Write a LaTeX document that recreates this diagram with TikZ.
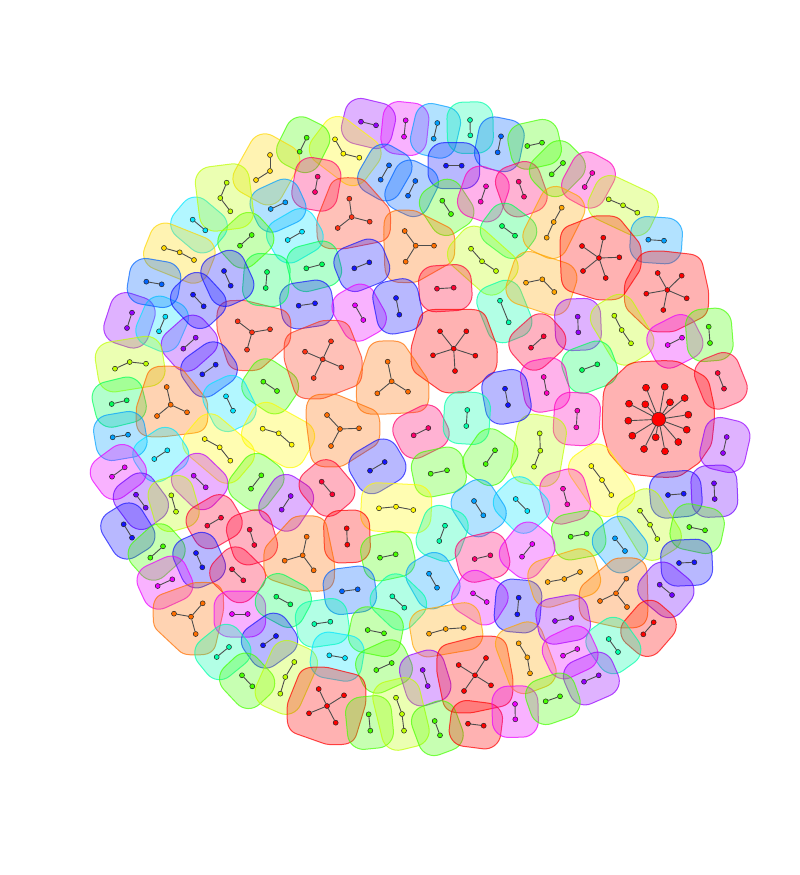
\documentclass[tikz,border=0pt]{standalone}
\usepackage{tikz}
\pgfdeclarelayer{bg}
\pgfsetlayers{bg,main}
\definecolor{cred}{RGB}{255,0,0}
\definecolor{cred2}{RGB}{255,0,50}
\definecolor{crose}{RGB}{255,0,110}
\definecolor{cpink}{RGB}{255,0,190}
\definecolor{cmag}{RGB}{235,0,255}
\definecolor{corchid}{RGB}{190,0,255}
\definecolor{cviolet}{RGB}{150,0,255}
\definecolor{ciris}{RGB}{110,0,255}
\definecolor{cblue}{RGB}{20,20,255}
\definecolor{cazure}{RGB}{0,100,255}
\definecolor{csky}{RGB}{0,160,255}
\definecolor{ccyan}{RGB}{0,230,255}
\definecolor{caqua}{RGB}{0,255,170}
\definecolor{cmint}{RGB}{0,255,90}
\definecolor{cgreen}{RGB}{70,255,0}
\definecolor{clime}{RGB}{190,255,0}
\definecolor{cyel}{RGB}{255,250,0}
\definecolor{cgold}{RGB}{255,215,0}
\definecolor{camber}{RGB}{255,165,0}
\definecolor{corange}{RGB}{255,110,0}
\definecolor{cscar}{RGB}{255,50,20}
\tikzset{
  blob/.style={shape=rectangle, draw=#1, fill=#1, fill opacity=0.3, draw opacity=0.7, line width=1pt, rounded corners=16pt, inner sep=0pt, outer sep=0pt},
  dot/.style={circle, draw=black!85, fill=#1, line width=0.5pt, inner sep=0pt, minimum size=5pt},
  link/.style={draw=black!70, line width=0.9pt},
}
\newcounter{blobn}
% edge blob: color x1 y1 x2 y2
\newcommand\Eb[5]{%
  \stepcounter{blobn}%
  \pgfmathsetmacro\bang{atan2((#3)-(#5),(#4)-(#2))}%
  \pgfmathsetmacro\bw{veclen((#4)-(#2),(#5)-(#3))+36}%
  \pgfmathsetmacro\bcx{((#2)+(#4))/2}%
  \pgfmathsetmacro\bcy{((#3)+(#5))/2}%
  \begin{pgfonlayer}{bg}
  \node[blob=#1, minimum width=\bw pt, minimum height=46pt, rotate=\bang] (B\theblobn) at (\bcx,\bcy) {};
  \end{pgfonlayer}
  \node[dot=#1] (B\theblobn-1) at (#2,#3) {};
  \node[dot=#1] (B\theblobn-2) at (#4,#5) {};
  \draw[link] (B\theblobn-1) -- (B\theblobn-2);
}
% path blob: color x1 y1 x2 y2 x3 y3
\newcommand\Pb[7]{%
  \stepcounter{blobn}%
  \pgfmathsetmacro\bdx{(#6)-(#2)}%
  \pgfmathsetmacro\bdy{(#7)-(#3)}%
  \pgfmathsetmacro\bL{veclen(\bdx,\bdy)}%
  \pgfmathsetmacro\bdev{((\bdx)*((#5)-(#3))-(\bdy)*((#4)-(#2)))/(\bL)}%
  \pgfmathsetmacro\bcx{((#2)+(#6))/2+0.5*(\bdev)*(0-(\bdy))/(\bL)}%
  \pgfmathsetmacro\bcy{((#3)+(#7))/2+0.5*(\bdev)*(\bdx)/(\bL)}%
  \pgfmathsetmacro\bang{atan2(0-(\bdy),\bdx)}%
  \pgfmathsetmacro\bw{\bL+36}%
  \pgfmathsetmacro\bh{46+abs(\bdev)}%
  \begin{pgfonlayer}{bg}
  \node[blob=#1, minimum width=\bw pt, minimum height=\bh pt, rotate=\bang] (B\theblobn) at (\bcx,\bcy) {};
  \end{pgfonlayer}
  \node[dot=#1] (B\theblobn-1) at (#2,#3) {};
  \node[dot=#1] (B\theblobn-2) at (#4,#5) {};
  \node[dot=#1] (B\theblobn-3) at (#6,#7) {};
  \draw[link] (B\theblobn-1) -- (B\theblobn-2);
  \draw[link] (B\theblobn-2) -- (B\theblobn-3);
}
% hull blob: convex hull (points in angular order) grown by a squircle of radius #3
\newcommand\Hb[3]{%
  \xdef\hn{0}\xdef\hcx{0}\xdef\hcy{0}%
  \foreach \hx/\hy in {#2}{%
    \pgfmathtruncatemacro\hk{\hn+1}\xdef\hn{\hk}%
    \expandafter\xdef\csname hpx\hk\endcsname{\hx}%
    \expandafter\xdef\csname hpy\hk\endcsname{\hy}%
    \pgfmathsetmacro\htmp{\hcx+\hx}\xdef\hcx{\htmp}%
    \pgfmathsetmacro\htmp{\hcy+\hy}\xdef\hcy{\htmp}%
  }%
  \pgfmathsetmacro\htmp{\hcx/\hn}\xdef\hcx{\htmp}%
  \pgfmathsetmacro\htmp{\hcy/\hn}\xdef\hcy{\htmp}%
  \foreach \hi in {1,...,\hn}{%
    \pgfmathtruncatemacro\hip{mod(\hi,\hn)+1}%
    \edef\hAx{\csname hpx\hi\endcsname}\edef\hAy{\csname hpy\hi\endcsname}%
    \edef\hBx{\csname hpx\hip\endcsname}\edef\hBy{\csname hpy\hip\endcsname}%
    \pgfmathsetmacro\hNx{(\hBy)-(\hAy)}%
    \pgfmathsetmacro\hNy{(\hAx)-(\hBx)}%
    \pgfmathsetmacro\hSg{((\hNx)*(((\hAx)+(\hBx))/2-(\hcx))+(\hNy)*(((\hAy)+(\hBy))/2-(\hcy)))>0 ? 1 : -1}%
    \pgfmathsetmacro\hPhi{atan2((\hSg)*(\hNy),(\hSg)*(\hNx))}%
    \expandafter\xdef\csname hphi\hi\endcsname{\hPhi}%
  }%
  \gdef\hpath{}%
  \foreach \hi in {1,...,\hn}{%
    \pgfmathtruncatemacro\him{mod(\hi+\hn-2,\hn)+1}%
    \edef\hPa{\csname hphi\him\endcsname}\edef\hPb{\csname hphi\hi\endcsname}%
    \pgfmathsetmacro\hDd{mod((\hPb)-(\hPa)+540,360)-180}%
    \edef\hAx{\csname hpx\hi\endcsname}\edef\hAy{\csname hpy\hi\endcsname}%
    \foreach \hkk in {0,...,12}{%
      \pgfmathsetmacro\hPh{(\hPa)+(\hDd)*\hkk/12}%
      \pgfmathsetmacro\hC{cos(\hPh)}%
      \pgfmathsetmacro\hS{sin(\hPh)}%
      \pgfmathsetmacro\hDen{pow(pow(abs(\hC)+0.0001,1.5)+pow(abs(\hS)+0.0001,1.5),1/3)}%
      \pgfmathsetmacro\hQx{(\hAx)+(#3)*((\hC)<0 ? -1 : 1)*sqrt(abs(\hC)+0.0001)/(\hDen)}%
      \pgfmathsetmacro\hQy{(\hAy)+(#3)*((\hS)<0 ? -1 : 1)*sqrt(abs(\hS)+0.0001)/(\hDen)}%
      \xdef\hpath{\hpath(\hQx,\hQy)--}%
    }%
  }%
  \begin{pgfonlayer}{bg}
  \edef\hcmd{\noexpand\path[blob=#1, sharp corners] \hpath cycle;}\hcmd
  \end{pgfonlayer}
}
% star blob: color cx cy leaves(angular order) r
\newcommand\Sb[5]{%
  \stepcounter{blobn}%
  \Hb{#1}{#4}{#5}%
  \node[dot=#1] (B\theblobn-0) at (#2,#3) {};
  \foreach \lx/\ly [count=\li] in {#4}{%
    \node[dot=#1] (B\theblobn-\li) at (\lx,\ly) {};
    \draw[link] (B\theblobn-0) -- (B\theblobn-\li);
  }%
}
\begin{document}
\begin{tikzpicture}[x=1pt,y=-1pt]
\useasboundingbox (0,0) rectangle (800,875);
\Eb{cviolet}{361}{121.7}{376}{125.3}
\Eb{cmag}{405.7}{120.3}{404}{136.7}
\Eb{csky}{437.3}{123}{433.7}{138.7}
\Eb{caqua}{470}{120}{470.3}{135.3}
\Eb{cazure}{501}{136.3}{497.7}{152.3}
\Eb{cgreen}{527.3}{146}{542}{142.7}
\Pb{cyel}{335}{139.3}{343.3}{153.7}{359.3}{157.7}
\Eb{cgreen}{306.7}{137.7}{299.7}{151.7}
\Pb{cgold}{270}{155}{270}{171}{256}{180}
\Eb{cazure}{389}{165.3}{380.7}{179.7}
\Eb{cblue}{446}{165.7}{461.7}{165.7}
\Eb{cazure}{415.3}{181}{408}{195.7}
\Eb{crose}{317.7}{176.7}{315}{192}
\Eb{cgreen}{442.3}{200.7}{451}{214}
\Eb{cpink}{486}{186.3}{480.7}{201.7}
\Eb{crose}{518.7}{181.7}{524}{196.7}
\Eb{cmint}{502}{226}{515}{235.7}
\Sb{cscar}{351.7}{217}{349.3/198.7,369.7/221.7,337.7/228}{21}
\Sb{corange}{415.7}{245.7}{404.7/231,434/245.7,405.7/261.7}{21}
\Pb{clime}{471}{248.7}{482}{261.3}{496}{271}
\Eb{ccyan}{287.7}{240}{302}{231.7}
\Eb{cmint}{306.3}{268.3}{322}{264.3}
\Eb{cblue}{354.3}{268.3}{369.3}{262.3}
\Eb{cred2}{437}{288.7}{453.7}{287.7}
\Eb{cblue}{298.7}{305.7}{315}{303.3}
\Eb{cmag}{355}{305.3}{363.3}{320}
\Eb{cblue}{396}{298}{399.3}{314.7}
\Eb{caqua}{500}{300.7}{508.7}{322.3}
\Pb{camber}{526}{282.7}{542.3}{279.3}{554.3}{292}
\Eb{cgreen}{563}{163}{551.7}{174.3}
\Eb{cpink}{592.3}{173}{584.7}{187}
\Pb{clime}{608.7}{199.3}{623}{205.3}{637.3}{212.7}
\Pb{camber}{561.7}{207.7}{553.7}{222}{546.7}{237.7}
\Eb{csky}{648.3}{239.7}{664}{240.7}
\Sb{cred}{599}{258}{582/246,603.3/237.7,619.3/257.3,605.7/278,583/271}{22}
\Sb{cred}{667.3}{290}{657.7/273,681.7/275.7,686.7/298.3,663.3/310,646.3/293.7}{22}
\Eb{cviolet}{577.7}{316.7}{578.3}{332.3}
\Pb{clime}{614.3}{315.7}{621.7}{330}{631}{343.3}
\Eb{cred2}{543.7}{336.3}{531}{347.7}
\Eb{cmag}{667.7}{345}{682}{337.7}
\Eb{cgreen}{708.7}{326.7}{710}{343}
\Eb{cmint}{582}{370}{597.3}{364.3}
\Eb{cpink}{543.7}{377}{546.7}{393}
\Eb{cred2}{717.7}{373}{724}{388.7}
% big star
\Hb{cred}{646/387.7,664.7/386.7,684.7/398,688.3/414.7,686.7/429.7,678.3/442,665/451.3,644/449,632.3/435.7,628.3/420.7,629/403.7}{26}
\node[dot=cred, minimum size=14pt] (BIG-0) at (658.7,419.3) {};
\foreach \lx/\ly [count=\li] in {646/387.7,664.7/386.7,629/403.7,645.3/404.3,670/402.3,684.7/398,688.3/414.7,628.3/420.7,686.7/429.7,632.3/435.7,655.7/437.3,678.3/442,644/449,665/451.3}{
  \node[dot=cred, minimum size=7pt] (BIG-\li) at (\lx,\ly) {};
  \draw[link] (BIG-0) -- (BIG-\li);
}
\Eb{cpink}{577.3}{410.7}{576.3}{427.3}
\Pb{clime}{539.7}{433.3}{540.3}{450.7}{534}{466.7}
\Eb{cviolet}{726.7}{437}{723}{453}
\Pb{cyel}{591.3}{466}{602}{480}{611.3}{495}
\Eb{cpink}{563}{488.7}{567.3}{504.3}
\Eb{cblue}{668}{495}{683.7}{493.7}
\Eb{ciris}{714}{483.3}{714.7}{499}
\Pb{clime}{640}{510.7}{650}{524.7}{657.3}{539}
\Eb{cgreen}{689.3}{527}{705}{530.3}
\Eb{cgreen}{570.7}{536.7}{586.7}{533.7}
\Eb{csky}{615}{538.3}{625}{551}
\Eb{ccyan}{515.7}{499}{527.3}{511}
\Eb{cviolet}{132}{312.7}{127}{328}
\Eb{ccyan}{165.3}{316.7}{159}{331.3}
\Eb{cviolet}{195.7}{337.7}{183.3}{348.7}
\Sb{cscar}{252}{332.3}{237.7/321.3,270/329.3,247/349.7}{21}
\Pb{clime}{115}{368.7}{129.7}{362}{146}{363.7}
\Eb{cblue}{215.7}{364.7}{202.3}{374.3}
\Eb{cgreen}{263.3}{381.7}{277}{391}
\Eb{cmint}{111.7}{404}{126.7}{400.3}
\Sb{corange}{170.7}{404.7}{166.7/387,187/412.3,157/416}{21}
\Eb{ccyan}{226}{396.3}{233}{410.7}
\Eb{csky}{112.7}{437.3}{128}{434.7}
\Pb{cyel}{204.7}{439}{219.7}{447.3}{230.3}{460.7}
\Pb{cyel}{262.7}{428.7}{278.7}{433.3}{291.7}{444.7}
\Eb{ccyan}{154.3}{459}{167.3}{450.3}
\Eb{cmag}{112}{476.7}{124.7}{467.3}
\Eb{corchid}{193.7}{475.7}{205.7}{487.3}
\Eb{cgreen}{261.3}{475.3}{251}{488.7}
\Eb{ciris}{136}{494.7}{145.7}{507.7}
\Eb{clime}{171.3}{495.3}{176}{511.7}
\Eb{cviolet}{290.7}{496}{281.7}{509.7}
\Eb{cred2}{221}{517.7}{207.3}{525.7}
\Eb{cred2}{249.7}{529.7}{254.3}{545}
\Eb{cblue}{123.7}{524.3}{132}{537.7}
\Sb{cscar}{322.7}{359.3}{305/351.7,331/341.3,341.3/367.3,313.7/378}{21}
\Sb{cred}{453.7}{348.7}{440/331.3,466.3/331.3,475.3/355.7,455/371,433/355.3}{22}
\Sb{corange}{391.7}{381.3}{387.7/361.7,408/391.7,377.3/393.3}{21}
\Eb{cblue}{505}{388.7}{508}{405}
\Sb{corange}{340}{429}{327/415,359/428.3,331/446}{21}
\Eb{crose}{413.7}{435.3}{428.3}{428}
\Eb{caqua}{467.3}{410}{466.3}{426}
\Eb{cblue}{370}{470.7}{384.7}{462}
\Eb{cgreen}{430.7}{473.7}{447}{470.3}
\Eb{cgreen}{495}{450.3}{485.7}{464}
\Eb{cred2}{321.7}{481.7}{332.3}{494.3}
\Pb{cyel}{379}{508.3}{396}{506.7}{413.3}{510}
\Eb{csky}{474}{501}{483.3}{515.3}
\Eb{caqua}{445}{525.7}{439.3}{541}
\Eb{cred}{346.7}{528.3}{347.3}{544.7}
\Eb{cgreen}{163}{546.3}{150.3}{557.7}
\Eb{cblue}{196}{553}{202.3}{567.3}
\Eb{cred2}{232}{569.3}{243.3}{580.3}
\Sb{corange}{302.7}{555.3}{306.7/536.7,313.7/570.3,284.7/560.7}{21}
\Eb{cmag}{157.7}{586}{172.3}{579.3}
\Sb{corange}{191}{616.7}{174/613.7,202.7/603.3,195.7/634}{21}
\Eb{cmag}{232}{614}{247.7}{614}
\Eb{cmint}{276.3}{596.7}{290.3}{604.3}
\Eb{cblue}{263}{645.3}{276}{636}
\Eb{caqua}{216.7}{657}{229}{647}
\Eb{cgreen}{242}{675.3}{252.3}{686.3}
\Pb{clime}{294.3}{662}{285.3}{677}{280.3}{693.7}
\Eb{cgreen}{380}{557.7}{395.7}{554.3}
\Eb{crose}{474.7}{559}{490.3}{555.3}
\Eb{cmag}{522}{556.7}{532.3}{544}
\Eb{cazure}{342}{591.3}{357.7}{589.3}
\Eb{csky}{429}{573.7}{437}{587.7}
\Eb{caqua}{392.3}{596.3}{404.3}{607.7}
\Eb{cmag}{473}{593.3}{486.7}{602}
\Eb{cblue}{518.7}{597.7}{517.3}{614.3}
\Eb{caqua}{314.3}{624}{330.3}{621.7}
\Eb{cgreen}{367.7}{630}{384}{633.3}
\Pb{camber}{429}{633.7}{445.7}{629}{463.7}{627.7}
\Eb{ccyan}{329.3}{655.3}{345}{658}
\Eb{cgreen}{376.3}{670}{391.7}{663}
\Eb{cviolet}{422.7}{670}{427.7}{686}
\Sb{cred}{475}{675.3}{458.7/665,486/658,491/685.3,464/691}{22}
\Pb{camber}{518.7}{643.3}{527.3}{657.3}{530}{673.3}
\Sb{cred}{327}{706}{318.7/689,344/695.3,335.7/722.7,309/713.3}{22}
\Eb{cgreen}{368.7}{714.3}{370.3}{730.7}
\Pb{clime}{396}{697.7}{402}{714}{404}{730.7}
\Eb{cgreen}{434.7}{721}{440}{735.3}
\Eb{cred}{468}{723.7}{483.7}{725.7}
\Eb{cmag}{515}{704}{515.3}{719.3}
\Eb{cblue}{679}{563}{694.3}{562.3}
\Pb{camber}{547.7}{582}{564.3}{579}{580}{572}
\Sb{corange}{616}{593.3}{626.3/578.7,627/607,600/601}{21}
\Eb{ciris}{659.7}{584.7}{672}{595}
\Eb{cviolet}{555}{621}{571.3}{618}
\Eb{cred}{653.7}{622.3}{643.3}{634.3}
\Eb{caqua}{608.7}{639}{618}{652}
\Eb{cmag}{563}{655.7}{577.3}{649}
\Eb{cviolet}{584}{681.7}{598.7}{675.3}
\Eb{cgreen}{545.7}{701.3}{560}{696.3}
\Eb{cmint}{267}{272}{265.7}{288}
\Eb{csky}{270.7}{209}{285.3}{202.3}
\Eb{ccyan}{192.7}{219.7}{205.3}{230.3}
\Eb{cgreen}{240}{245.7}{251.7}{235}
\Pb{cgold}{164}{248}{179.7}{252.3}{194}{260}
\Eb{cazure}{146.3}{281.7}{161.7}{284.3}
\Eb{cblue}{224}{271}{230.7}{285.7}
\Eb{cblue}{193}{294.7}{203.7}{306.3}
\Pb{clime}{226.7}{182.7}{220.3}{198}{230.3}{211.3}
\end{tikzpicture}
\end{document}
